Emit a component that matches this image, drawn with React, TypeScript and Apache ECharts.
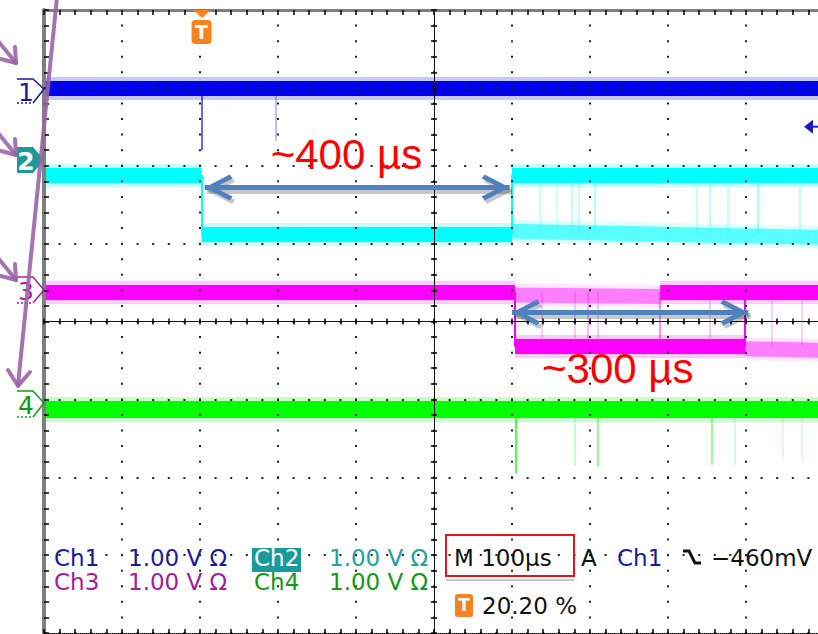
import React, { useEffect, useRef } from "react";
import * as echarts from "echarts";

// Horizontal: 10 div x 100 us, vertical: 8 div x 1.00 V
const timeMinUs = 0;
const timeMaxUs = 1000;
const timeDivUs = 100;
const voltMin = -4;
const voltMax = 4;

// level segments: [t0 (us), v0 (div), t1 (us), v1 (div), opacity]
const ch1Levels = [[0, 3.0, 1000, 3.0, 1]];
const ch1Edges: number[][] = [];
// glitches: [t (us), from (div), to (div), opacity]
const ch1Glitches = [[202, 3.0, 2.2, 0.8], [297, 3.0, 2.32, 0.35]];

const ch2Levels = [
  [0, 1.88, 202, 1.88, 1],
  [202, 1.12, 600, 1.12, 1],
  [600, 1.88, 1000, 1.88, 1],
  [600, 1.16, 1000, 1.08, 0.6],
];
const ch2Edges = [[202, 1.88, 1.12], [600, 1.12, 1.88]];
const ch2Glitches = [
  [636, 1.88, 1.12, 0.3], [658, 1.88, 1.12, 0.25], [677, 1.88, 1.12, 0.35],
  [685, 1.88, 1.12, 0.3], [706, 1.88, 1.12, 0.4], [837, 1.88, 1.12, 0.3],
  [853, 1.88, 1.12, 0.35], [876, 1.88, 1.12, 0.3], [915, 1.88, 1.12, 0.45],
  [969, 1.88, 1.12, 0.3],
];

const ch3Levels = [
  [0, 0.38, 604, 0.38, 1],
  [604, -0.32, 899, -0.32, 1],
  [604, 0.34, 790, 0.32, 0.45],
  [790, 0.38, 1000, 0.38, 1],
  [899, -0.35, 1000, -0.37, 0.45],
];
const ch3Edges = [[604, 0.38, -0.32], [899, -0.32, 0.38]];
const ch3Glitches = [
  [638, 0.38, -0.32, 0.3], [681, 0.38, -0.32, 0.3], [697, 0.38, -0.32, 0.4],
  [710, 0.38, -0.32, 0.3], [790, 0.38, -0.32, 0.6], [854, 0.38, -0.32, 0.3],
  [933, 0.38, -0.32, 0.25], [972, 0.38, -0.32, 0.25],
];

const ch4Levels = [[0, -1.13, 1000, -1.13, 1]];
const ch4Edges: number[][] = [];
const ch4Glitches = [
  [605, -1.13, -1.95, 0.9], [681, -1.13, -1.85, 0.3], [710, -1.13, -1.86, 0.6],
  [856, -1.13, -1.84, 0.55], [886, -1.13, -1.84, 0.25], [947, -1.13, -1.75, 0.2],
  [972, -1.13, -1.8, 0.2],
];

// measurement arrows: [from (us), to (us), level (div)]
const measurements = [[206, 597, 1.72], [600, 903, 0.115]];
const measurementLabels = ["~400 \u00b5s", "~300 \u00b5s"];

const triggerTimeUs = 202; // 20.20 %
const triggerLevelDiv = 3.0 - 0.46; // Ch1 offset + (-460 mV)

const CH1 = "#0000ee";
const CH2 = "#00ffff";
const CH3 = "#ff00ff";
const CH4 = "#00ff00";
const ORANGE = "#f7821e";
const PURPLE = "rgba(155,100,168,0.9)";
const ARROW = "#4f81bd";
const SHADOW_DT = 3; // us
const SHADOW_DV = 0.045; // div

const chevron =
  "path://M0,0 L0.3,0 L0,0.3 Z M56,0 L55.7,0 L56,0.3 Z M28,28 L41,53 L37,56 L28,38 L19,56 L15,53 Z";

const base = {
  type: "lines",
  coordinateSystem: "cartesian2d",
  xAxisIndex: 0,
  yAxisIndex: 0,
  silent: true,
  polyline: false,
  symbol: "none",
  animation: false,
};

function traceSeries(color: string, levels: number[][], edges: number[][], glitches: number[][], band: number) {
  const seg = (s: number[]) => ({ coords: [[s[0], s[1]], [s[2], s[3]]] });
  return [
    {
      ...base, z: 2,
      lineStyle: { color, width: band + 8, opacity: 0.22 },
      data: levels.map((s) => ({ ...seg(s), lineStyle: { opacity: 0.22 * s[4] } })),
    },
    {
      ...base, z: 3,
      lineStyle: { color, width: band, opacity: 1 },
      data: levels.map((s) => ({ ...seg(s), lineStyle: { opacity: s[4] } })),
    },
    {
      ...base, z: 3,
      lineStyle: { color, width: 2, opacity: 1 },
      data: edges.map((e) => ({ coords: [[e[0], e[1]], [e[0], e[2]]] })),
    },
    {
      ...base, z: 3,
      lineStyle: { color, width: 1.5, opacity: 1 },
      data: glitches.map((g) => ({ coords: [[g[0], g[1]], [g[0], g[2]]], lineStyle: { opacity: g[3] } })),
    },
  ];
}

const GRID = { left: 44, top: 10, width: 780, height: 623 };
const dotsX = [2, 623 / 40 - 2];
const dotsY = [2, 780 / 50 - 2];

function centerAxes(gridIndex: number, inside: boolean) {
  const common = {
    gridIndex,
    z: 10,
    axisLine: { show: true, onZero: true, lineStyle: { color: "#000", width: 1, type: [1, 1] } },
    axisTick: { show: true, inside, length: 3, lineStyle: { color: "#000", width: 1.5 } },
    minorTick: { show: true, splitNumber: 5, length: 3, lineStyle: { color: "#000", width: 1.5 } },
    axisLabel: { show: false },
    splitLine: { show: false },
  };
  return {
    x: { ...common, type: "value", min: -5, max: 5, interval: 1, position: "bottom" },
    y: { ...common, type: "value", min: -4, max: 4, interval: 1, position: "left" },
  };
}

const c1 = centerAxes(1, false);
const c2 = centerAxes(2, true);

const option: any = {
  animation: false,
  backgroundColor: "#ffffff",
  grid: [
    { ...GRID, outerBoundsMode: "none" },
    { ...GRID, outerBoundsMode: "none" },
    { ...GRID, outerBoundsMode: "none" },
  ],
  xAxis: [
    {
      type: "value", gridIndex: 0, min: timeMinUs, max: timeMaxUs, interval: timeDivUs, position: "bottom", z: 10,
      axisLine: { show: true, onZero: false, lineStyle: { color: "#000", width: 1, type: [1, 1] } },
      axisTick: { show: true, inside: true, length: 4, lineStyle: { color: "#000", width: 1.5 } },
      minorTick: { show: true, splitNumber: 5, length: 4, lineStyle: { color: "#000", width: 1.5 } },
      axisLabel: { show: false },
      splitLine: { show: true, lineStyle: { color: "#222", width: 2, type: dotsX, dashOffset: 1 } },
    },
    {
      type: "value", gridIndex: 0, min: timeMinUs, max: timeMaxUs, interval: timeDivUs, position: "top", z: 10,
      axisLine: { show: true, onZero: false, lineStyle: { color: "#7f7f7f", width: 3 } },
      axisTick: { show: true, inside: true, length: 5, lineStyle: { color: "#000", width: 1.5 } },
      minorTick: { show: true, splitNumber: 5, length: 5, lineStyle: { color: "#000", width: 1.5 } },
      axisLabel: { show: false },
      splitLine: { show: false },
    },
    c1.x,
    c2.x,
  ],
  yAxis: [
    {
      type: "value", gridIndex: 0, min: voltMin, max: voltMax, interval: 1, position: "left", z: 10,
      axisLine: { show: true, onZero: false, lineStyle: { color: "#7f7f7f", width: 4 } },
      axisTick: { show: true, inside: true, length: 5, lineStyle: { color: "#000", width: 1.5 } },
      minorTick: { show: true, splitNumber: 5, length: 5, lineStyle: { color: "#000", width: 1.5 } },
      axisLabel: { show: false },
      splitLine: { show: true, lineStyle: { color: "#222", width: 2, type: dotsY, dashOffset: 1 } },
    },
    c1.y,
    c2.y,
  ],
  series: [
    ...traceSeries(CH1, ch1Levels, ch1Edges, ch1Glitches, 15),
    ...traceSeries(CH2, ch2Levels, ch2Edges, ch2Glitches, 15),
    ...traceSeries(CH3, ch3Levels, ch3Edges, ch3Glitches, 15),
    ...traceSeries(CH4, ch4Levels, ch4Edges, ch4Glitches, 17),
    {
      ...base,
      z: 19,
      symbol: [chevron, chevron],
      symbolSize: 56,
      lineStyle: { color: "rgba(0,0,0,0.22)", width: 6, opacity: 1 },
      data: measurements.map((m) => ({
        coords: [[m[0] + SHADOW_DT, m[2] - SHADOW_DV], [m[1] + SHADOW_DT, m[2] - SHADOW_DV]],
      })),
    },
    {
      ...base,
      z: 20,
      symbol: [chevron, chevron],
      symbolSize: 56,
      lineStyle: { color: ARROW, width: 5, opacity: 1 },
      data: measurements.map((m) => ({ coords: [[m[0], m[2]], [m[1], m[2]]] })),
    },
  ],
};

type Tok = { text: string; x: number; y: number; color: string };
const statusTokens: Tok[] = [
  { text: "Ch1", x: 54, y: 558, color: "#1a1a9e" },
  { text: "1.00 V \u03a9", x: 128, y: 558, color: "#1a1a9e" },
  { text: "Ch2", x: 254, y: 558, color: "#ffffff" },
  { text: "1.00 V \u03a9", x: 329, y: 558, color: "#21a0a0" },
  { text: "M 100\u00b5s", x: 454, y: 558, color: "#111111" },
  { text: "A", x: 581, y: 558, color: "#111111" },
  { text: "Ch1", x: 617, y: 558, color: "#1a1a9e" },
  { text: "\u2212460mV", x: 711, y: 558, color: "#111111" },
  { text: "Ch3", x: 54, y: 582, color: "#a0209f" },
  { text: "1.00 V \u03a9", x: 128, y: 582, color: "#a0209f" },
  { text: "Ch4", x: 254, y: 582, color: "#129a12" },
  { text: "1.00 V \u03a9", x: 329, y: 582, color: "#129a12" },
  { text: "20.20 %", x: 482, y: 606, color: "#111111" },
];

function marker(label: string, yTop: number, yTip: number, yBot: number, color: string, filled: boolean) {
  const pts = [[17, yTop], [33, yTop], [44, yTip], [33, yBot], [17, yBot]];
  const els: any[] = [];
  if (filled) {
    els.push({ type: "polygon", shape: { points: pts }, style: { fill: color }, z: 30 });
  } else {
    els.push({ type: "polyline", shape: { points: pts.slice(0, 4) }, style: { stroke: color, lineWidth: 1.5, fill: null }, z: 30 });
    els.push({ type: "line", shape: { x1: 17, y1: yBot, x2: 33, y2: yBot }, style: { stroke: color, lineWidth: 1.5, lineDash: [2, 2] }, z: 30 });
  }
  els.push({
    type: "text", x: 26, y: (yTop + yBot) / 2 + 1, z: 31,
    style: { text: label, fill: filled ? "#ffffff" : color, fontSize: 25, fontFamily: "DejaVu Sans", fontWeight: filled ? "bold" : "normal", align: "center", verticalAlign: "middle" },
  });
  return els;
}

function buildGraphic(chart: any) {
  const trig = chart.convertToPixel({ gridIndex: 0 }, [triggerTimeUs, triggerLevelDiv]);
  const tx = trig[0];
  const ty = trig[1];
  const m1 = chart.convertToPixel({ gridIndex: 0 }, [measurements[0][0], measurements[0][2]]);
  const m2 = chart.convertToPixel({ gridIndex: 0 }, [measurements[1][0], measurements[1][2]]);
  const els: any[] = [];

  // channel markers
  els.push(...marker("1", 79, 89, 103, "#1a1a9e", false));
  els.push(...marker("2", 147, 160, 173, "#1a9a96", true));
  els.push(...marker("3", 277, 290, 303, "#a0209f", false));
  els.push(...marker("4", 391, 403, 417, "#129a12", false));

  // trigger position marker (top)
  els.push({ type: "polygon", shape: { points: [[tx - 8, 10], [tx + 9, 10], [tx + 0.5, 18]] }, style: { fill: ORANGE }, z: 30 });
  els.push({ type: "rect", shape: { x: tx - 10, y: 20, width: 20, height: 24, r: 4 }, style: { fill: ORANGE }, z: 30 });
  els.push({ type: "text", x: tx, y: 32, z: 31, style: { text: "T", fill: "#fff", fontSize: 19, fontWeight: "bold", fontFamily: "DejaVu Sans", align: "center", verticalAlign: "middle" } });

  // trigger level arrow (right edge)
  els.push({ type: "polygon", shape: { points: [[804, ty + 3], [813, ty - 4], [813, ty + 10]] }, style: { fill: "#1a1acc" }, z: 30 });
  els.push({ type: "line", shape: { x1: 812, y1: ty + 3, x2: 818, y2: ty + 3 }, style: { stroke: "#1a1acc", lineWidth: 2 }, z: 30 });

  // measurement labels
  els.push({ type: "text", x: m1[0] + 66, y: m1[1] - 33, z: 40, style: { text: measurementLabels[0], fill: "#ff0000", fontSize: 42, fontFamily: "Liberation Sans", align: "left", verticalAlign: "middle" } });
  els.push({ type: "text", x: m2[0] + 30, y: m2[1] + 56, z: 40, style: { text: measurementLabels[1], fill: "#ff0000", fontSize: 42, fontFamily: "Liberation Sans", align: "left", verticalAlign: "middle" } });

  // status area
  els.push({ type: "rect", shape: { x: 252, y: 548, width: 49, height: 24 }, style: { fill: "#1a9a9a" }, z: 30 });
  els.push({ type: "rect", shape: { x: 446, y: 535, width: 128, height: 41 }, style: { fill: null, stroke: "#e8141c", lineWidth: 2 }, z: 32 });
  els.push({ type: "line", shape: { x1: 446, y1: 580, x2: 574, y2: 580 }, style: { stroke: "#c8c8c8", lineWidth: 2 }, z: 30 });
  statusTokens.forEach((t) => {
    els.push({ type: "text", x: t.x, y: t.y, z: 33, style: { text: t.text, fill: t.color, fontSize: 23, fontFamily: "DejaVu Sans", align: "left", verticalAlign: "middle" } });
  });
  // falling edge symbol
  els.push({ type: "polyline", shape: { points: [[683, 551], [689, 551], [695, 563], [701, 563]] }, style: { stroke: "#111", lineWidth: 3, fill: null }, z: 33 });
  // bottom trigger icon
  els.push({ type: "rect", shape: { x: 455, y: 594, width: 18, height: 23, r: 3 }, style: { fill: ORANGE }, z: 33 });
  els.push({ type: "text", x: 464, y: 605, z: 34, style: { text: "T", fill: "#fff", fontSize: 17, fontWeight: "bold", fontFamily: "DejaVu Sans", align: "center", verticalAlign: "middle" } });

  // purple annotation arrows
  const purpleLine = (x1: number, y1: number, x2: number, y2: number) => ({ type: "line", shape: { x1, y1, x2, y2 }, style: { stroke: PURPLE, lineWidth: 4, lineCap: "round" }, z: 50 });
  const purpleHead = (pts: number[][]) => ({ type: "polyline", shape: { points: pts }, style: { stroke: PURPLE, lineWidth: 4, lineCap: "round", lineJoin: "round", fill: null }, z: 50 });
  els.push(purpleLine(57, -3, 18, 385));
  els.push(purpleHead([[8, 370], [18, 386], [30, 372]]));
  els.push(purpleLine(-6, 36, 16, 63));
  els.push(purpleHead([[1, 59], [16, 63], [15, 47]]));
  els.push(purpleLine(-6, 128, 16, 155));
  els.push(purpleHead([[1, 151], [16, 155], [15, 139]]));
  els.push(purpleLine(-6, 253, 16, 280));
  els.push(purpleHead([[1, 276], [16, 280], [15, 264]]));
  return els;
}

export default function App() {
  const ref = useRef<HTMLDivElement>(null);
  useEffect(() => {
    document.body.style.margin = "0";
    const chart = echarts.init(ref.current!, null, { renderer: "svg" });
    chart.setOption(option);
    chart.setOption({ graphic: { elements: buildGraphic(chart) } });
    return () => chart.dispose();
  }, []);
  return (
    <div
      ref={ref}
      style={{ width: 818, height: 634, position: "absolute", left: 0, top: 0, background: "#fff" }}
    />
  );
}
